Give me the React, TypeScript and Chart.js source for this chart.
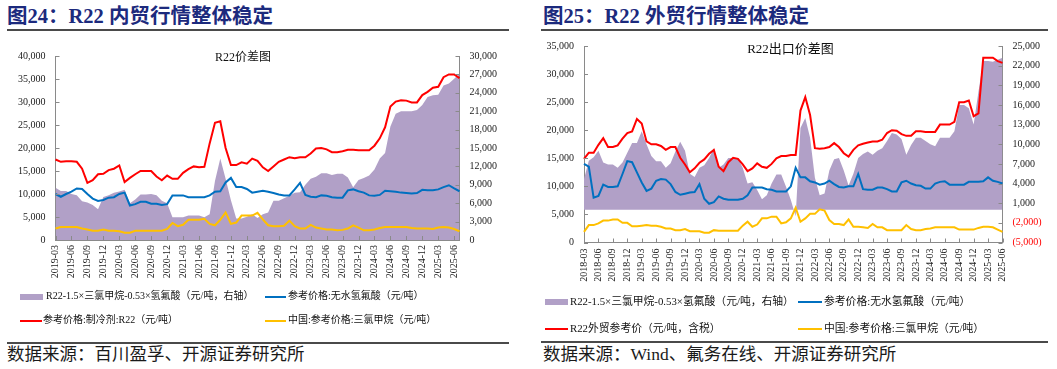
import React, { useEffect, useRef } from 'react';
import { Chart, registerables } from 'chart.js';

Chart.register(...registerables);

const FONT_SERIF = '"Liberation Serif", "Times New Roman", "Noto Sans CJK SC", serif';
const PURPLE = 'rgb(177,160,199)';
const RED = '#FF0000';
const BLUE = '#0070C0';
const YELLOW = '#FFC000';
const AXIS = '#8a8a8a';
const TICK = '#1a1a1a';
const TITLE_BLUE = '#1c2a7d';

function monthLabels(startYear: number, startMonth: number, count: number): string[] {
  const out: string[] = [];
  let y = startYear;
  let m = startMonth;
  for (let i = 0; i < count; i++) {
    out.push(`${y}-${m < 10 ? '0' + m : m}`);
    m++;
    if (m > 12) { m = 1; y++; }
  }
  return out;
}

// ---------- Chart 24 (domestic) : 2019-03 .. 2025-07, monthly ----------
const L_LABELS = monthLabels(2019, 3, 77);
const L_SPREAD = [
  8500, 8000, 8000, 7500, 7300, 6300, 6100, 5700, 5000, 7000,
  7300, 7700, 7900, 8200, 6000, 6600, 7400, 7400, 7500, 7300,
  6400, 6000, 3700, 3700, 3700, 4000, 4000, 4000, 3700, 4200,
  9600, 13300, 10000, 6500, 3500, 3500, 3800, 4200, 3600, 4200,
  4500, 6400, 6400, 6800, 7200, 7700, 7800, 9000, 10000, 10300,
  10900, 10900, 10600, 10800, 10800, 10200, 8600, 9800, 10100, 10500,
  11500, 13300, 14200, 18500, 20600, 21000, 21000, 21000, 21200, 22000,
  23300, 23600, 23700, 25200, 25500, 26300, 27100,
];
const L_R22 = [
  17500, 17000, 17100, 17100, 17000, 15500, 12400, 13000, 14300, 14400,
  15200, 15500, 16200, 12600, 13500, 14300, 15000, 15000, 15000, 13800,
  13000, 14000, 13300, 13300, 14600, 15400, 16000, 15800, 15900, 21000,
  25500, 25800, 20000, 16300, 16300, 16900, 16600, 17700, 17200, 15800,
  15000, 16000, 17000, 17500, 18000, 17800, 18000, 18000, 18800, 19900,
  20000, 19700, 19100, 19100, 19300, 19600, 19600, 19500, 19500, 19500,
  20500, 22100, 24500, 29000, 30100, 30400, 30300, 29900, 29900, 31500,
  32200, 33100, 33300, 35400, 36000, 36000, 35200,
];
const L_HF = [
  10000, 9400, 10000, 10500, 11200, 11100, 10000, 9000, 8500, 8700,
  9200, 9300, 10000, 10300, 7500, 7800, 8300, 8300, 7900, 7900,
  7600, 7800, 9700, 9700, 9700, 9300, 9300, 9300, 9300, 9700,
  10500, 10600, 12500, 13500, 11500, 11500, 11100, 10300, 10500, 10700,
  10500, 10200, 9900, 9700, 9700, 11000, 12400, 9800, 9400, 9300,
  9700, 9600, 9300, 9200, 9200, 10800, 11000, 10600, 10300, 9700,
  9600, 9800, 10700, 10600, 10500, 10300, 10200, 10100, 10200, 10900,
  10800, 10800, 11000, 11500, 11900, 11200, 10600,
];
const L_TCM = [
  2500, 2800, 2800, 2800, 2800, 2500, 2300, 2000, 2000, 2300,
  2000, 2000, 1900, 1600, 1600, 2000, 2000, 2000, 2000, 2000,
  2000, 2400, 3700, 3000, 3300, 4400, 4400, 4400, 4600, 3500,
  3200, 4400, 6000, 3500, 3800, 5300, 5300, 5300, 5900, 4500,
  3200, 3000, 3000, 3100, 4200, 3000, 2500, 2500, 3300, 2700,
  2500, 2300, 2300, 2100, 2200, 2500, 3200, 2700, 2100, 2100,
  2300, 2600, 2800, 2800, 2800, 2800, 2800, 2600, 2500, 2500,
  2500, 2400, 2700, 2800, 2700, 2400, 1900,
];

// ---------- Chart 25 (export) : 2018-03 .. 2025-06, monthly ----------
const R_LABELS = monthLabels(2018, 3, 88);
const R_SPREAD = [
  4700, 7500, 8000, 9000, 7200, 6900, 6900, 6400, 7200, 8700,
  10200, 10200, 12000, 10000, 8200, 7400, 7400, 6400, 7100, 8900,
  10400, 9000, 5500, 5000, 6400, 6800, 7900, 9400, 6400, 6900,
  7900, 7900, 7900, 6400, 4000, 4200, 3000, 1600, 2200, 4000,
  5400, 5400, 3500, 1500, -1000, 12500, 14000, 11000, 4900, 2200,
  2500, 6000, 7700, 7900, 6000, 3700, 5500, 7900, 8500, 8900,
  8400, 9000, 9400, 10500, 11700, 11500, 10800, 8400, 9900, 11000,
  11000, 10500, 10000, 9700, 11000, 11000, 11000, 12000, 16000, 16000,
  15500, 13000, 18000, 22700, 22700, 22600, 22900, 23200,
];
const R_R22 = [
  14900, 16000, 16000, 17400, 18600, 17000, 17000, 17300, 18500, 19500,
  19800, 22000, 21200, 18000, 17500, 17500, 17200, 16500, 17000, 17000,
  15100, 13900, 12500, 13200, 14200, 14800, 15800, 16500, 13500, 12700,
  14300, 15100, 14900, 13900, 12700, 13200, 14100, 13500, 13300, 14000,
  15000, 15400, 15400, 15600, 15600, 23500, 25900, 22700, 16800, 16700,
  16800, 17000, 17700, 17000, 15900, 15300, 16500, 17300, 17600, 17800,
  18000, 18000, 18300, 19500, 20000, 19900, 19300, 19000, 19000, 19800,
  19800, 19700, 19700, 19700, 21000, 21000, 21000, 21500, 25000, 25000,
  25300, 22500, 23000, 32900, 32900, 32900, 32300, 32000,
];
const R_HF = [
  14000, 13500, 8000, 8300, 10300, 9900, 9900, 10000, 12200, 14500,
  14300, 12500, 10700, 9200, 9600, 11000, 11300, 11200, 10400, 9000,
  8500, 8700, 8900, 9000, 10400, 7800, 6900, 7200, 8200, 7800,
  7600, 7600, 7600, 7800, 8400, 9800, 9800, 9800, 9500, 9400,
  9100, 9100, 9100, 10000, 13300, 11600, 11600, 10900, 10700, 10300,
  10500, 11000, 10400, 9900, 9800, 10000, 10000, 12200, 9500, 9400,
  9400, 9800, 9800, 9500, 9100, 9100, 10700, 11000, 10500, 10200,
  10100, 9600, 9600, 10500, 10800, 10900, 10300, 10300, 10300, 10300,
  10800, 10800, 10800, 10900, 11600, 11000, 10800, 10500,
];
const R_TCM = [
  1900, 3100, 3100, 3400, 3900, 3900, 4100, 4100, 3500, 3500,
  2900, 2900, 3000, 3100, 3000, 3000, 2800, 2500, 2500, 2200,
  2200, 2400, 2000, 2000, 2000, 1750, 1750, 2200, 2100, 2100,
  2100, 2100, 2100, 3000, 3700, 2800, 3200, 4300, 4300, 4600,
  4600, 3400, 3600, 4300, 6200, 3700, 4300, 5100, 5100, 5900,
  5700, 4000, 3300, 3300, 3100, 4100, 2800, 2800, 2700, 2600,
  3300, 2700, 2700, 2200, 2200, 2200, 2200, 3100, 2400, 2200,
  2200, 2400, 2500, 2700, 2700, 2700, 2700, 2700, 2300, 2300,
  2300, 2300, 2600, 2800, 2800, 2700, 2300, 1900,
];

const fmt = (v: number) => {
  const s = Math.abs(v).toLocaleString('en-US');
  return v < 0 ? `(${s})` : s;
};

const quarterOnly = (label: string) => {
  const m = parseInt(label.slice(5), 10);
  return m % 3 === 0 ? label : '';
};

const decoPlugin = {
  id: 'deco',
  afterDraw(chart: any, _args: any, opts: any) {
    const { ctx, chartArea } = chart;
    ctx.save();
    ctx.strokeStyle = AXIS;
    ctx.lineWidth = 1;
    ctx.beginPath();
    Object.values(chart.scales).forEach((s: any) => {
      s.ticks.forEach((t: any, i: number) => {
        if (s.axis === 'x') {
          if (!t.label) return;
          const x = Math.round(s.getPixelForTick(i)) + 0.5;
          ctx.moveTo(x, chartArea.bottom);
          ctx.lineTo(x, chartArea.bottom - 4);
        } else {
          const y = Math.round(s.getPixelForTick(i)) + 0.5;
          if (s.position === 'left') {
            ctx.moveTo(chartArea.left, y);
            ctx.lineTo(chartArea.left + 4, y);
          } else {
            ctx.moveTo(chartArea.right, y);
            ctx.lineTo(chartArea.right - 4, y);
          }
        }
      });
    });
    ctx.stroke();
    if (opts && opts.title) {
      ctx.fillStyle = '#111';
      ctx.font = `${opts.size}px ${FONT_SERIF}`;
      ctx.textAlign = 'center';
      ctx.textBaseline = 'middle';
      ctx.fillText(opts.title, opts.x, opts.y);
    }
    ctx.restore();
  },
};

type Cfg = {
  labels: string[];
  area: number[];
  red: number[];
  blue: number[];
  yellow: number[];
  left: [number, number, number];
  right: [number, number, number];
  wLeft: number;
  wRight: number;
  hBottom: number;
  padTop: number;
  xPad: number;
  title: string;
  tx: number;
  ty: number;
  tsize: number;
};

function makeConfig(p: Cfg): any {
  const tickFont = { family: FONT_SERIF, size: 10 };
  return {
    type: 'line',
    data: {
      labels: p.labels,
      datasets: [
        { label: 'spread', data: p.area, yAxisID: 'y1', fill: 'origin', backgroundColor: PURPLE, borderWidth: 0, pointRadius: 0, order: 10 },
        { label: 'r22', data: p.red, yAxisID: 'y', borderColor: RED, borderWidth: 2, pointRadius: 0, fill: false, order: 1 },
        { label: 'hf', data: p.blue, yAxisID: 'y', borderColor: BLUE, borderWidth: 2, pointRadius: 0, fill: false, order: 2 },
        { label: 'tcm', data: p.yellow, yAxisID: 'y', borderColor: YELLOW, borderWidth: 2, pointRadius: 0, fill: false, order: 3 },
      ],
    },
    options: {
      animation: false,
      responsive: false,
      events: [],
      layout: { padding: { top: p.padTop, left: 0, right: 0, bottom: 0 } },
      plugins: {
        legend: { display: false },
        tooltip: { enabled: false },
        deco: { title: p.title, x: p.tx, y: p.ty, size: p.tsize },
      },
      scales: {
        x: {
          type: 'category',
          grid: { display: false, drawTicks: false },
          border: { display: true, color: AXIS, width: 1 },
          ticks: {
            autoSkip: false,
            minRotation: 90,
            maxRotation: 90,
            padding: p.xPad,
            color: TICK,
            font: tickFont,
            callback: (_v: any, i: number) => quarterOnly(p.labels[i]),
          },
          afterFit: (s: any) => { s.height = p.hBottom; },
        },
        y: {
          position: 'left',
          min: p.left[0],
          max: p.left[1],
          grid: { display: false, drawTicks: false },
          border: { display: true, color: AXIS, width: 1 },
          ticks: { stepSize: p.left[2], padding: 10, color: TICK, font: tickFont, callback: (v: number) => fmt(v) },
          afterFit: (s: any) => { s.width = p.wLeft; },
        },
        y1: {
          position: 'right',
          min: p.right[0],
          max: p.right[1],
          grid: { display: false, drawTicks: false },
          border: { display: true, color: AXIS, width: 1 },
          ticks: {
            stepSize: p.right[2],
            padding: 10,
            font: tickFont,
            color: (c: any) => (c.tick && c.tick.value < 0 ? RED : TICK),
            callback: (v: number) => fmt(v),
          },
          afterFit: (s: any) => { s.width = p.wRight; },
        },
      },
    },
    plugins: [decoPlugin],
  };
}

function ChartBox(props: { cfg: Cfg; left: number; top: number; width: number; height: number }) {
  const ref = useRef<HTMLCanvasElement>(null);
  useEffect(() => {
    if (!ref.current) return;
    const chart = new Chart(ref.current, makeConfig(props.cfg));
    return () => chart.destroy();
  }, []);
  return (
    <canvas
      ref={ref}
      width={props.width}
      height={props.height}
      style={{ position: 'absolute', left: props.left, top: props.top, width: props.width, height: props.height }}
    />
  );
}

const TEXT_FONT = '"Liberation Serif", "Times New Roman", "Noto Sans CJK SC", serif';

function Text(props: { x: number; y: number; size: number; children: React.ReactNode; bold?: boolean; color?: string }) {
  return (
    <div
      style={{
        position: 'absolute',
        left: props.x,
        top: props.y,
        transform: 'translateY(-50%)',
        fontFamily: TEXT_FONT,
        fontSize: props.size,
        fontWeight: props.bold ? 700 : 400,
        color: props.color || '#111',
        lineHeight: 1.2,
        whiteSpace: 'nowrap',
      }}
    >
      {props.children}
    </div>
  );
}

function Swatch(props: { x: number; y: number; w: number; color: string; thick: number }) {
  return (
    <div
      style={{
        position: 'absolute',
        left: props.x,
        top: props.y - props.thick / 2,
        width: props.w,
        height: props.thick,
        background: props.color,
      }}
    />
  );
}

function Rule(props: { x: number; y: number; w: number }) {
  return <div style={{ position: 'absolute', left: props.x, top: props.y, width: props.w, height: 2, background: '#4a4a4a' }} />;
}

const LEFT_CFG: Cfg = {
  labels: L_LABELS,
  area: L_SPREAD,
  red: L_R22,
  blue: L_HF,
  yellow: L_TCM,
  left: [0, 40000, 5000],
  right: [0, 30000, 3000],
  wLeft: 55.5,
  wRight: 70.5,
  hBottom: 50,
  padTop: 12,
  xPad: 5,
  title: 'R22价差图',
  tx: 243,
  ty: 17.5,
  tsize: 12,
};

const RIGHT_CFG: Cfg = {
  labels: R_LABELS,
  area: R_SPREAD,
  red: R_R22,
  blue: R_HF,
  yellow: R_TCM,
  left: [0, 35000, 5000],
  right: [-5000, 25000, 3000],
  wLeft: 54,
  wRight: 54.5,
  hBottom: 49.5,
  padTop: 13,
  xPad: 6,
  title: 'R22出口价差图',
  tx: 260.5,
  ty: 19.5,
  tsize: 13,
};

export default function App() {
  return (
    <div style={{ position: 'absolute', left: 0, top: 0, width: 1057, height: 369, background: '#fff', overflow: 'hidden' }}>
      {/* Left panel */}
      <Text x={7} y={15.7} size={20.5} bold color={TITLE_BLUE}>图24：R22 内贸行情整体稳定</Text>
      <Rule x={7} y={28.5} w={502} />
      <ChartBox cfg={LEFT_CFG} left={0} top={40} width={530} height={250} />
      <Swatch x={20} y={296.5} w={23} color={PURPLE} thick={6} />
      <Text x={46} y={296} size={10}>R22-1.5×三氯甲烷-0.53×氢氟酸（元/吨，右轴）</Text>
      <Swatch x={265} y={296.5} w={21} color={BLUE} thick={2} />
      <Text x={288} y={296} size={10}>参考价格:无水氢氟酸（元/吨）</Text>
      <Swatch x={20} y={320.5} w={22} color={RED} thick={2} />
      <Text x={43} y={320} size={10}>参考价格:制冷剂:R22（元/吨）</Text>
      <Swatch x={265} y={320.5} w={21} color={YELLOW} thick={2} />
      <Text x={288} y={320} size={10}>中国:参考价格:三氯甲烷（元/吨）</Text>
      <Rule x={7} y={341.5} w={502} />
      <Text x={7} y={353.5} size={17.5} color="#1a1a1a">数据来源：百川盈孚、开源证券研究所</Text>

      {/* Right panel */}
      <Text x={543} y={15.7} size={20.5} bold color={TITLE_BLUE}>图25：R22 外贸行情整体稳定</Text>
      <Rule x={541} y={28.5} w={507} />
      <ChartBox cfg={RIGHT_CFG} left={530} top={30} width={527} height={262} />
      <Swatch x={545} y={302} w={23} color={PURPLE} thick={6} />
      <Text x={570} y={301.3} size={10.8}>R22-1.5×三氯甲烷-0.53×氢氟酸（元/吨，右轴）</Text>
      <Swatch x={798} y={302} w={24} color={BLUE} thick={2} />
      <Text x={824} y={301.3} size={10.8}>参考价格:无水氢氟酸（元/吨）</Text>
      <Swatch x={545} y={328.5} w={23} color={RED} thick={2} />
      <Text x={570} y={328} size={10.8}>R22外贸参考价（元/吨，含税）</Text>
      <Swatch x={798} y={328.5} w={24} color={YELLOW} thick={2} />
      <Text x={824} y={328} size={10.8}>中国:参考价格:三氯甲烷（元/吨）</Text>
      <Rule x={541} y={341} w={507} />
      <Text x={543} y={354} size={17.5} color="#1a1a1a">数据来源：Wind、氟务在线、开源证券研究所</Text>
    </div>
  );
}
